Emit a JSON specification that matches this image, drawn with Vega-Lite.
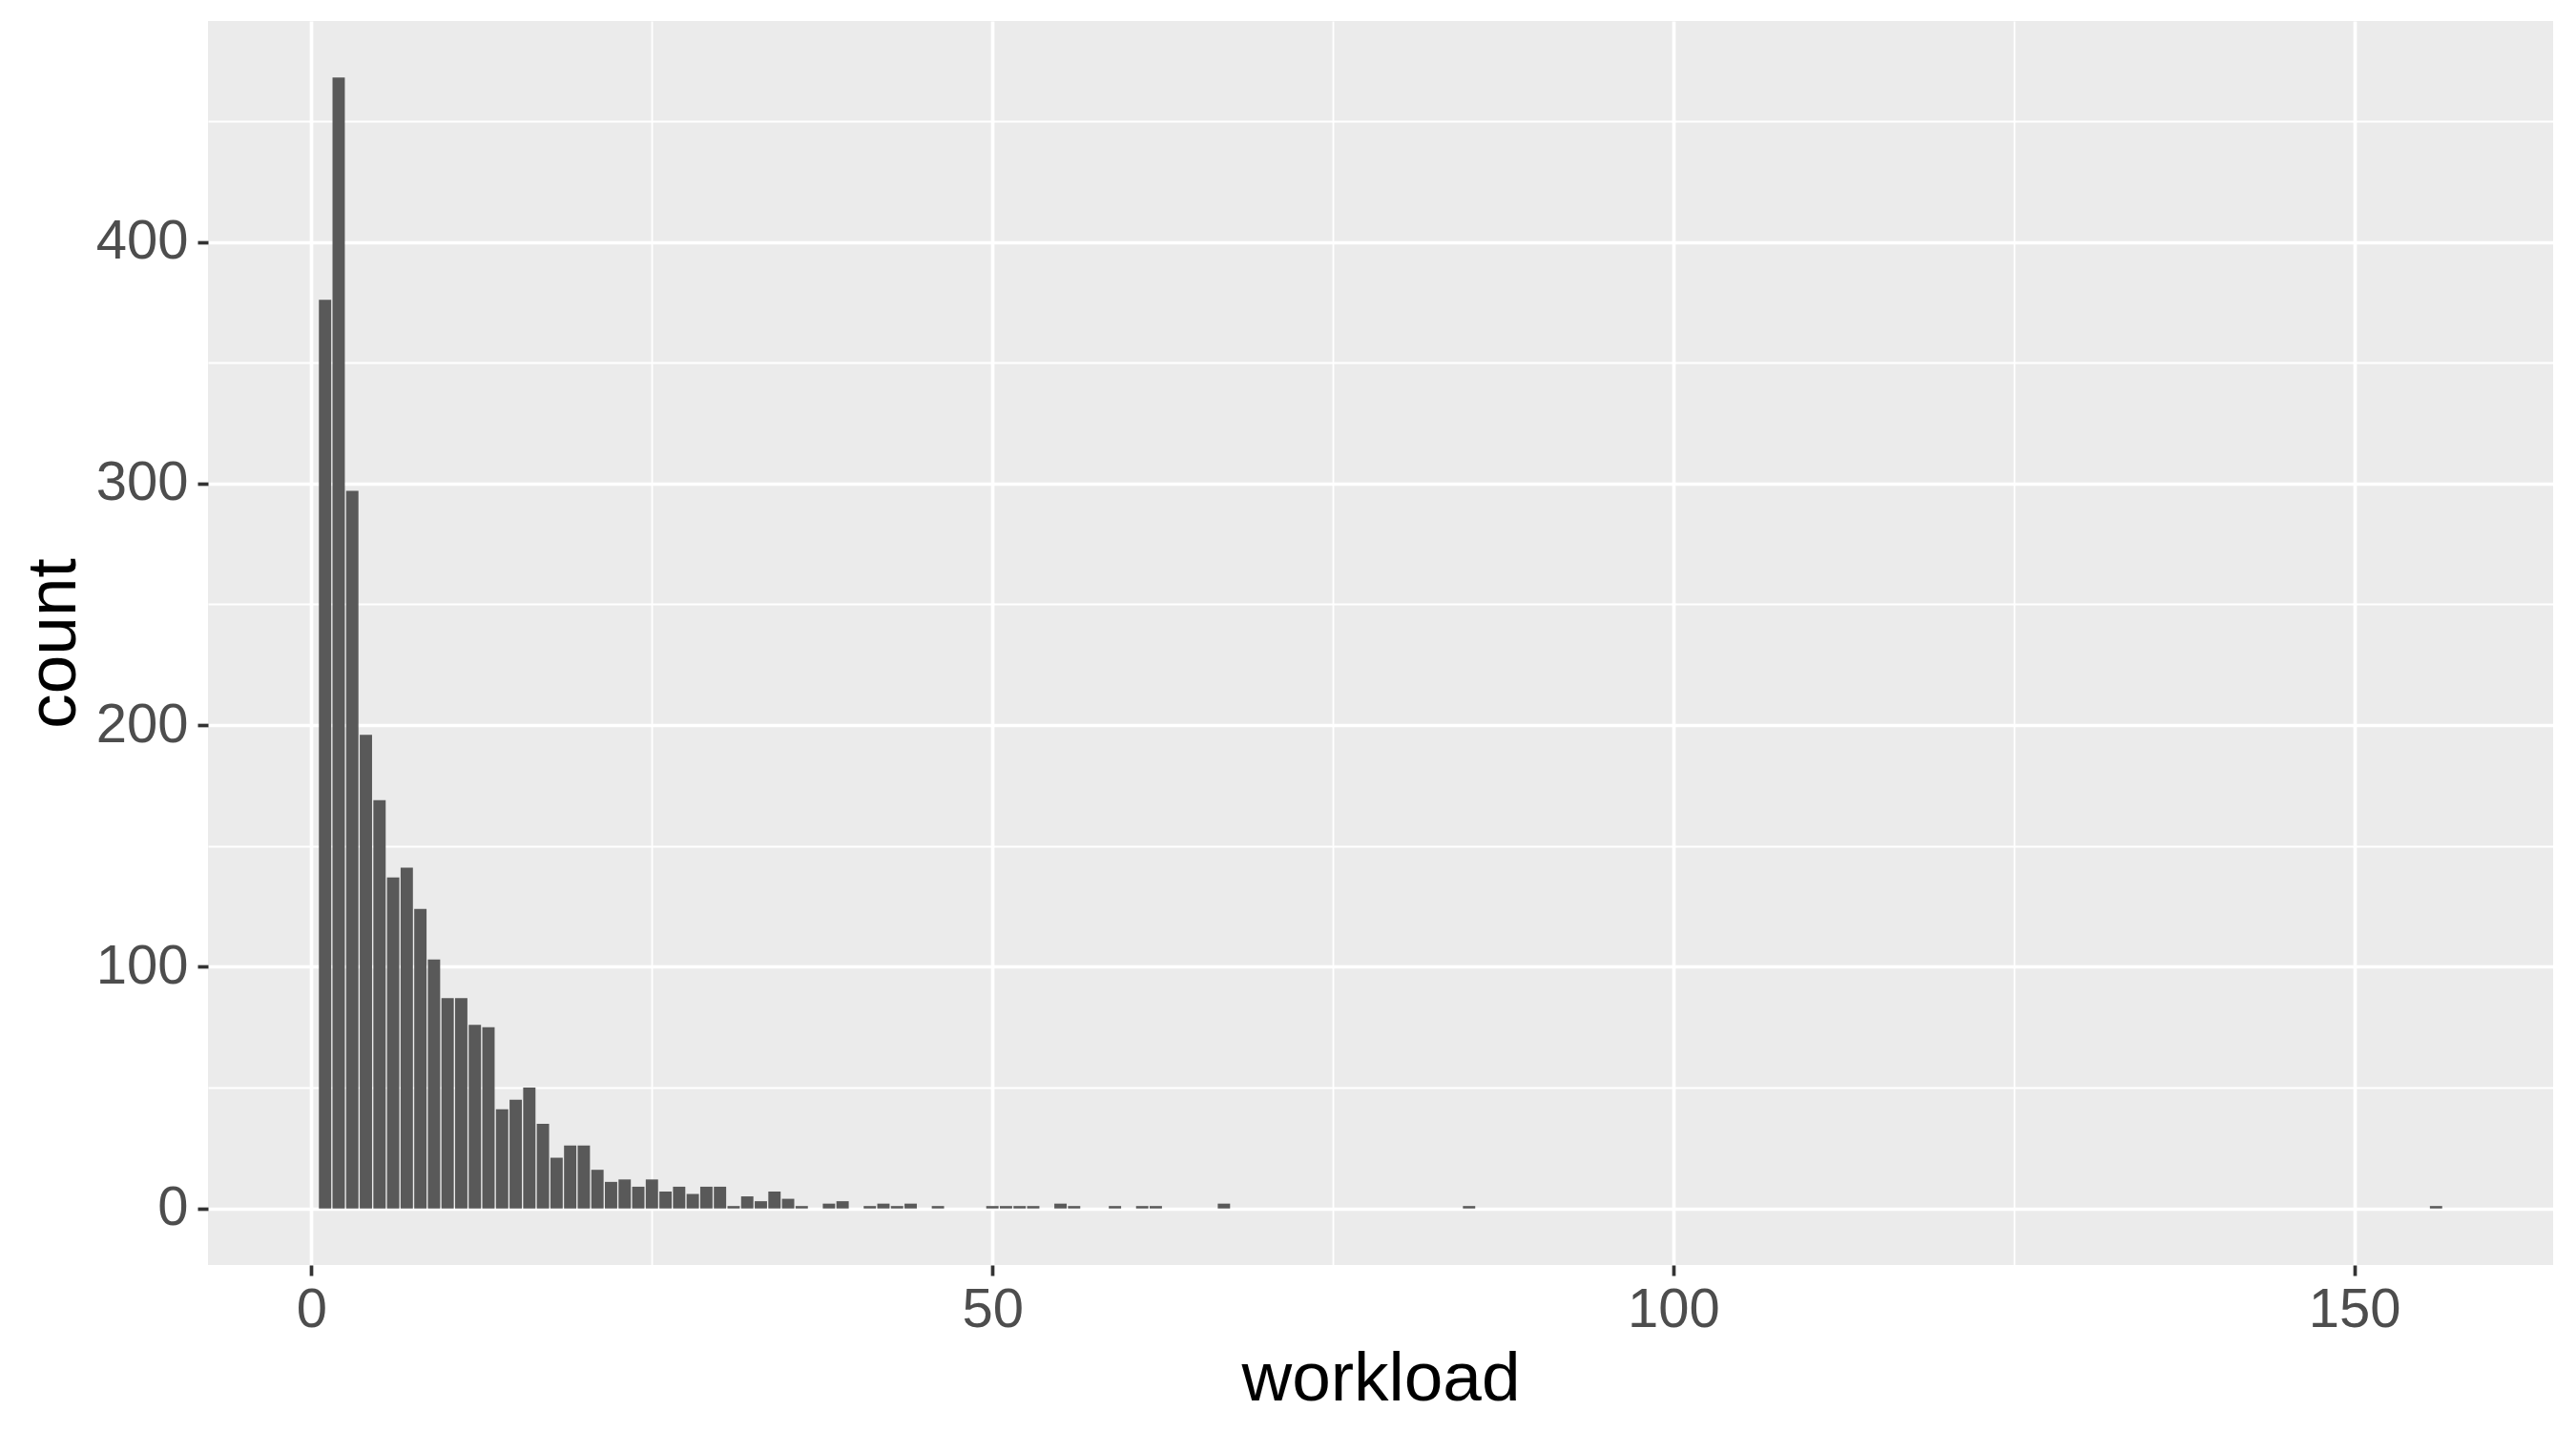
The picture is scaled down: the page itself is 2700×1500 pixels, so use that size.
{
  "$schema": "https://vega.github.io/schema/vega-lite/v6.json",
  "width": 2458,
  "height": 1304,
  "autosize": {"type": "none"},
  "padding": {"left": 218, "top": 22, "right": 24, "bottom": 174},
  "background": "white",
  "config": {
    "view": {"stroke": null, "fill": "#EBEBEB"},
    "font": "Liberation Sans"
  },
  "data": {
    "values": [
      {"workload": 1, "count": 376}, {"workload": 2, "count": 468}, {"workload": 3, "count": 297},
      {"workload": 4, "count": 196}, {"workload": 5, "count": 169}, {"workload": 6, "count": 137},
      {"workload": 7, "count": 141}, {"workload": 8, "count": 124}, {"workload": 9, "count": 103},
      {"workload": 10, "count": 87}, {"workload": 11, "count": 87}, {"workload": 12, "count": 76},
      {"workload": 13, "count": 75}, {"workload": 14, "count": 41}, {"workload": 15, "count": 45},
      {"workload": 16, "count": 50}, {"workload": 17, "count": 35}, {"workload": 18, "count": 21},
      {"workload": 19, "count": 26}, {"workload": 20, "count": 26}, {"workload": 21, "count": 16},
      {"workload": 22, "count": 11}, {"workload": 23, "count": 12}, {"workload": 24, "count": 9},
      {"workload": 25, "count": 12}, {"workload": 26, "count": 7}, {"workload": 27, "count": 9},
      {"workload": 28, "count": 6}, {"workload": 29, "count": 9}, {"workload": 30, "count": 9},
      {"workload": 31, "count": 1}, {"workload": 32, "count": 5}, {"workload": 33, "count": 3},
      {"workload": 34, "count": 7}, {"workload": 35, "count": 4}, {"workload": 36, "count": 1},
      {"workload": 38, "count": 2}, {"workload": 39, "count": 3}, {"workload": 41, "count": 1},
      {"workload": 42, "count": 2}, {"workload": 43, "count": 1}, {"workload": 44, "count": 2},
      {"workload": 46, "count": 1}, {"workload": 50, "count": 1}, {"workload": 51, "count": 1},
      {"workload": 52, "count": 1}, {"workload": 53, "count": 1}, {"workload": 55, "count": 2},
      {"workload": 56, "count": 1}, {"workload": 59, "count": 1}, {"workload": 61, "count": 1},
      {"workload": 62, "count": 1}, {"workload": 67, "count": 2}, {"workload": 85, "count": 1},
      {"workload": 156, "count": 1}
    ]
  },
  "mark": {"type": "bar", "width": 12.9, "color": "#595959"},
  "encoding": {
    "x": {
      "field": "workload",
      "type": "quantitative",
      "scale": {"domain": [-7.245, 164.245], "nice": false, "zero": false},
      "axis": {
        "title": "workload",
        "values": [0, 25, 50, 75, 100, 125, 150],
        "labelExpr": "datum.value % 50 === 0 ? datum.label : ''",
        "domain": false,
        "grid": true,
        "gridColor": "white",
        "gridWidth": {"condition": {"test": "datum.value % 50 === 0", "value": 3.7}, "value": 1.85},
        "ticks": true,
        "tickColor": "#333333",
        "tickSize": 11,
        "tickWidth": 3.7,
        "tickOpacity": {"condition": {"test": "datum.value % 50 === 0", "value": 1}, "value": 0},
        "labelFont": "Liberation Sans",
        "labelFontSize": 58,
        "labelColor": "#4D4D4D",
        "labelPadding": 7,
        "labelFlush": false,
        "labelOverlap": false,
        "titleFont": "Liberation Sans",
        "titleFontSize": 73,
        "titleFontWeight": "normal",
        "titleColor": "black",
        "titlePadding": 7
      }
    },
    "y": {
      "field": "count",
      "type": "quantitative",
      "scale": {"domain": [-23.4, 491.4], "nice": false, "zero": false},
      "axis": {
        "title": "count",
        "values": [0, 50, 100, 150, 200, 250, 300, 350, 400, 450],
        "labelExpr": "datum.value % 100 === 0 ? datum.label : ''",
        "domain": false,
        "grid": true,
        "gridColor": "white",
        "gridWidth": {"condition": {"test": "datum.value % 100 === 0", "value": 3.7}, "value": 1.85},
        "ticks": true,
        "tickColor": "#333333",
        "tickSize": 11,
        "tickWidth": 3.7,
        "tickOpacity": {"condition": {"test": "datum.value % 100 === 0", "value": 1}, "value": 0},
        "labelFont": "Liberation Sans",
        "labelFontSize": 58,
        "labelColor": "#4D4D4D",
        "labelPadding": 10,
        "labelFlush": false,
        "labelOverlap": false,
        "titleFont": "Liberation Sans",
        "titleFontSize": 73,
        "titleFontWeight": "normal",
        "titleColor": "black",
        "titlePadding": 7
      }
    }
  }
}
